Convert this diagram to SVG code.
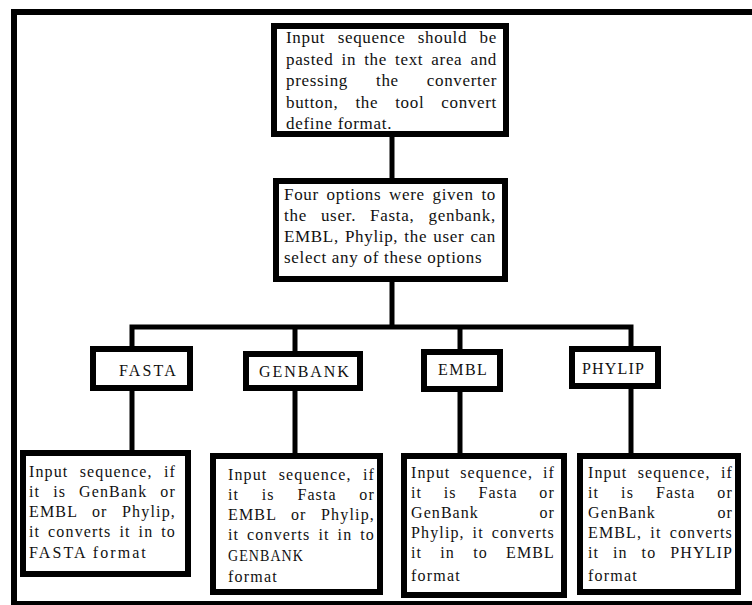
<svg xmlns="http://www.w3.org/2000/svg" width="752" height="605" viewBox="0 0 752 605">
<style>
.box{fill:#fff;stroke:#000;stroke-width:6}
.t{font-family:"Liberation Serif","Times New Roman",serif;font-size:16px;letter-spacing:1.2px;fill:#111}
.tl{font-family:"Liberation Serif","Times New Roman",serif;font-size:17px;letter-spacing:0.7px;fill:#111}
.wire{fill:none;stroke:#000;stroke-width:5;stroke-linejoin:miter}
</style>
<rect width="752" height="605" fill="#fff"/>
<g id="frame">
<rect x="11" y="9" width="741" height="6" fill="#000"/>
<rect x="11" y="9" width="6" height="596" fill="#000"/>
<rect x="11" y="601" width="741" height="4" fill="#000"/>
</g>
<g id="connectors">
<path class="wire" d="M392 137V178"/>
<path class="wire" d="M392 282V327"/>
<path class="wire" d="M132 346V327H631V346"/>
<path class="wire" d="M295 327V351"/>
<path class="wire" d="M460 327V349"/>
<path class="wire" d="M132 391V450"/>
<path class="wire" d="M295 391V453"/>
<path class="wire" d="M460 392V453"/>
<path class="wire" d="M631 389V453"/>
</g>
<g id="input">
<rect class="box" x="274" y="26" width="232" height="108"/>
<text class="tl" x="286" y="43" word-spacing="7.5" textLength="211" lengthAdjust="spacing">Input sequence should be</text>
<text class="tl" x="286" y="64.5" word-spacing="3.2" textLength="211" lengthAdjust="spacing">pasted in the text area and</text>
<text class="tl" x="286" y="86" word-spacing="23.1" textLength="211" lengthAdjust="spacing">pressing the converter</text>
<text class="tl" x="286" y="107.5" word-spacing="12.1" textLength="211" lengthAdjust="spacing">button, the tool convert</text>
<text class="tl" x="286" y="129">define format.</text>
</g>
<g id="options">
<rect class="box" x="276" y="181" width="229" height="98"/>
<text class="tl" x="284" y="200" word-spacing="2.8" textLength="212" lengthAdjust="spacing">Four options were given to</text>
<text class="tl" x="284" y="221" word-spacing="9" textLength="212" lengthAdjust="spacing">the user. Fasta, genbank,</text>
<text class="tl" x="284" y="242" word-spacing="1.2" textLength="212" lengthAdjust="spacing">EMBL, Phylip, the user can</text>
<text class="tl" x="284" y="263">select any of these options</text>
</g>
<g id="fasta">
<rect class="box" x="93" y="349" width="97" height="39"/>
<text class="t" x="119" y="376" textLength="58" lengthAdjust="spacing">FASTA</text>
</g>
<g id="genbank">
<rect class="box" x="246" y="354" width="114" height="34"/>
<text class="t" x="259" y="377" textLength="91" lengthAdjust="spacing">GENBANK</text>
</g>
<g id="embl">
<rect class="box" x="424" y="352" width="76" height="37"/>
<text class="t" x="438" y="375" textLength="50" lengthAdjust="spacing">EMBL</text>
</g>
<g id="phylip">
<rect class="box" x="572" y="349" width="86" height="37"/>
<text class="t" x="582" y="374" textLength="63" lengthAdjust="spacing">PHYLIP</text>
</g>
<g id="fasta-desc">
<rect class="box" x="23" y="453" width="165" height="121"/>
<text class="t" x="29" y="477" word-spacing="6.2" textLength="147" lengthAdjust="spacing">Input sequence, if</text>
<text class="t" x="29" y="497" word-spacing="7.9" textLength="147" lengthAdjust="spacing">it is GenBank or</text>
<text class="t" x="29" y="517" word-spacing="9.3" textLength="147" lengthAdjust="spacing">EMBL or Phylip,</text>
<text class="t" x="29" y="537" word-spacing="2.8" textLength="147" lengthAdjust="spacing">it converts it in to</text>
<text class="t" x="29" y="558" textLength="118" lengthAdjust="spacing">FASTA format</text>
</g>
<g id="genbank-desc">
<rect class="box" x="213" y="456" width="167" height="136"/>
<text class="t" x="228" y="480" word-spacing="6.2" textLength="147" lengthAdjust="spacing">Input sequence, if</text>
<text class="t" x="228" y="500" word-spacing="17.6" textLength="147" lengthAdjust="spacing">it is Fasta or</text>
<text class="t" x="228" y="520" word-spacing="9.3" textLength="147" lengthAdjust="spacing">EMBL or Phylip,</text>
<text class="t" x="228" y="540" word-spacing="2.8" textLength="147" lengthAdjust="spacing">it converts it in to</text>
<text class="t" x="228" y="561" textLength="76" lengthAdjust="spacingAndGlyphs">GENBANK</text>
<text class="t" x="228" y="582">format</text>
</g>
<g id="embl-desc">
<rect class="box" x="404" y="456" width="160" height="139"/>
<text class="t" x="411" y="478" word-spacing="4.7" textLength="144" lengthAdjust="spacing">Input sequence, if</text>
<text class="t" x="411" y="498" word-spacing="16.6" textLength="144" lengthAdjust="spacing">it is Fasta or</text>
<text class="t" x="411" y="518" word-spacing="55.4" textLength="144" lengthAdjust="spacing">GenBank or</text>
<text class="t" x="411" y="538" word-spacing="2.75" textLength="144" lengthAdjust="spacing">Phylip, it converts</text>
<text class="t" x="411" y="558" word-spacing="13.1" textLength="144" lengthAdjust="spacing">it in to EMBL</text>
<text class="t" x="411" y="581">format</text>
</g>
<g id="phylip-desc">
<rect class="box" x="580" y="456" width="158" height="136"/>
<text class="t" x="588" y="478" word-spacing="5.2" textLength="145" lengthAdjust="spacing">Input sequence, if</text>
<text class="t" x="588" y="498" word-spacing="16.9" textLength="145" lengthAdjust="spacing">it is Fasta or</text>
<text class="t" x="588" y="518" word-spacing="56.4" textLength="145" lengthAdjust="spacing">GenBank or</text>
<text class="t" x="588" y="538" word-spacing="3.1" textLength="145" lengthAdjust="spacing">EMBL, it converts</text>
<text class="t" x="588" y="558" word-spacing="8.8" textLength="145" lengthAdjust="spacing">it in to PHYLIP</text>
<text class="t" x="588" y="581">format</text>
</g>
</svg>
